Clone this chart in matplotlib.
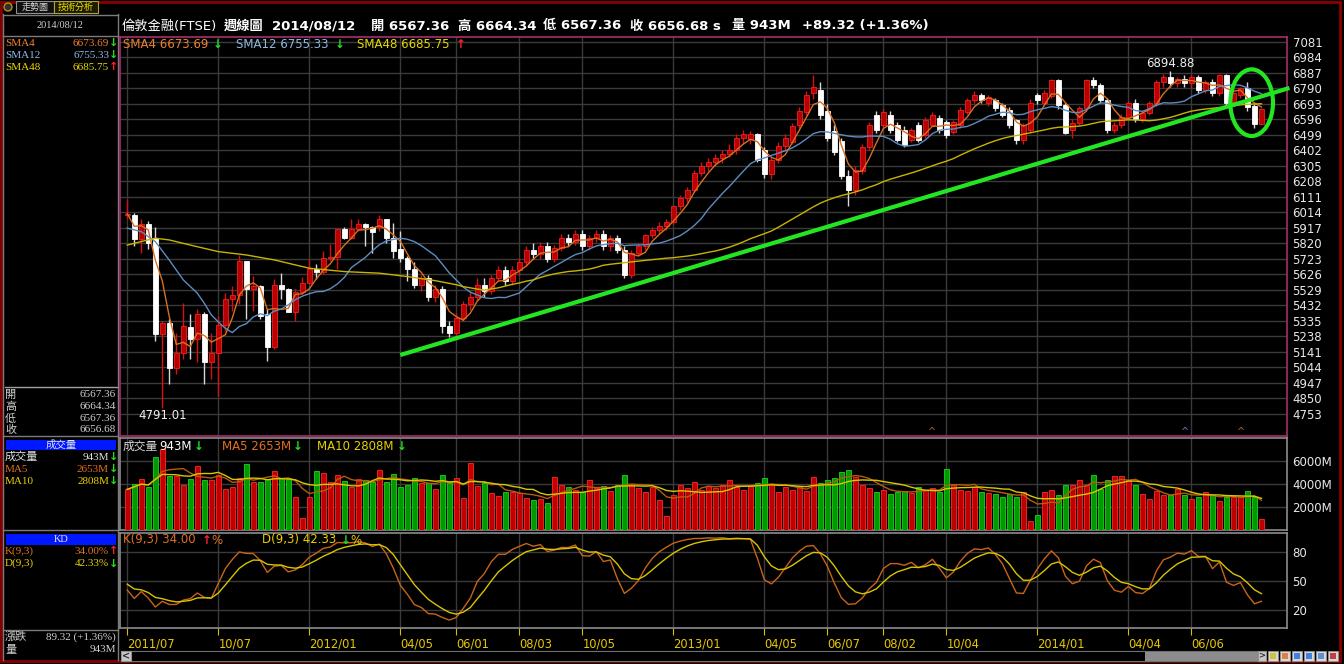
import matplotlib.pyplot as plt
from matplotlib.patches import Rectangle, Ellipse, Circle
import numpy as np
import pandas as pd

# 倫敦金融(FTSE) 週線, 2011/07/08 ~ 2014/08/15 共 163 根
opens = [5995, 5997, 5845, 5938, 5855, 5250, 5323, 5041, 5131, 5296,
         5219, 5375, 5073, 5135, 5308, 5469, 5494, 5709, 5532, 5552,
         5375, 5167, 5557, 5532, 5390, 5517, 5573, 5657, 5640, 5730,
         5736, 5907, 5855, 5907, 5938, 5918, 5918, 5970, 5855, 5782,
         5730, 5657, 5560, 5600, 5480, 5530, 5300, 5260, 5350, 5440,
         5480, 5560, 5520, 5600, 5650, 5580, 5650, 5700, 5780, 5750,
         5800, 5720, 5790, 5850, 5830, 5880, 5800, 5850, 5880, 5800,
         5850, 5780, 5620, 5760, 5800, 5870, 5900, 5930, 5950, 6050,
         6100, 6150, 6260, 6300, 6330, 6350, 6380, 6400, 6480, 6470,
         6500, 6400, 6250, 6340, 6430, 6450, 6560, 6640, 6760, 6780,
         6650, 6520, 6460, 6240, 6150, 6270, 6420, 6620, 6560, 6622,
         6560, 6528, 6466, 6560, 6497, 6560, 6603, 6578, 6516, 6560,
         6641, 6716, 6747, 6697, 6716, 6685, 6653, 6591, 6466, 6528,
         6747, 6700, 6740, 6841, 6685, 6528, 6571, 6666, 6841, 6810,
         6716, 6530, 6560, 6612, 6695, 6600, 6633, 6695, 6831, 6862,
         6820, 6850, 6820, 6860, 6780, 6830, 6760, 6870, 6705, 6747,
         6789, 6678, 6567.36]
highs = [6091, 6011, 5974, 5959, 5918, 5333, 5344, 5260, 5448, 5375,
         5406, 5386, 5260, 5365, 5511, 5552, 5744, 5709, 5615, 5557,
         5406, 5598, 5636, 5540, 5532, 5605, 5719, 5688, 5771, 5813,
         5910, 5918, 5970, 5970, 5949, 5928, 5995, 5974, 5949, 5897,
         5740, 5700, 5620, 5620, 5560, 5550, 5330, 5380, 5460, 5520,
         5600, 5600, 5620, 5680, 5680, 5680, 5730, 5800, 5820, 5830,
         5830, 5810, 5880, 5880, 5900, 5900, 5870, 5900, 5900, 5870,
         5870, 5800, 5780, 5820, 5880, 5920, 5950, 5970, 6060, 6120,
         6170, 6280, 6330, 6350, 6380, 6400, 6440, 6500, 6530, 6520,
         6510, 6420, 6360, 6450, 6500, 6570, 6670, 6770, 6875, 6830,
         6690, 6560, 6480, 6280, 6300, 6440, 6580, 6650, 6660, 6650,
         6580, 6550, 6540, 6580, 6610, 6640, 6620, 6590, 6590, 6670,
         6730, 6770, 6760, 6750, 6730, 6700, 6670, 6600, 6570, 6720,
         6760, 6780, 6850, 6850, 6700, 6600, 6680, 6850, 6860, 6820,
         6730, 6580, 6630, 6710, 6720, 6650, 6710, 6840, 6880, 6894.88,
         6860, 6870, 6870, 6870, 6840, 6850, 6880, 6880, 6770, 6800,
         6830, 6690, 6664.34]
lows = [5980, 5803, 5761, 5782, 5208, 4791.01, 4937, 5000, 5094, 5094,
        5073, 4937, 4968, 4864, 5271, 5396, 5438, 5344, 5396, 5344,
        5083, 5160, 5469, 5386, 5333, 5500, 5570, 5594, 5625, 5709,
        5657, 5845, 5845, 5897, 5803, 5761, 5897, 5824, 5730, 5699,
        5584, 5540, 5520, 5460, 5450, 5260, 5230, 5240, 5330, 5400,
        5460, 5480, 5500, 5580, 5560, 5560, 5620, 5680, 5720, 5720,
        5700, 5700, 5770, 5800, 5810, 5780, 5780, 5830, 5780, 5770,
        5760, 5600, 5600, 5740, 5780, 5850, 5880, 5900, 5940, 6030,
        6080, 6140, 6240, 6270, 6300, 6320, 6360, 6380, 6440, 6440,
        6330, 6230, 6220, 6320, 6400, 6440, 6540, 6620, 6720, 6600,
        6460, 6370, 6220, 6050, 6120, 6250, 6400, 6510, 6540, 6510,
        6450, 6420, 6450, 6450, 6480, 6550, 6510, 6480, 6500, 6540,
        6630, 6700, 6700, 6680, 6650, 6610, 6540, 6440, 6440, 6510,
        6690, 6690, 6730, 6660, 6500, 6480, 6560, 6650, 6790, 6700,
        6510, 6510, 6540, 6600, 6580, 6580, 6620, 6680, 6800, 6800,
        6800, 6800, 6790, 6760, 6760, 6740, 6740, 6680, 6690, 6730,
        6650, 6540, 6567.36]
closes = [6005, 5845, 5938, 5824, 5250, 5323, 5041, 5131, 5302, 5219,
          5375, 5073, 5135, 5308, 5469, 5494, 5709, 5532, 5552, 5365,
          5167, 5557, 5532, 5390, 5517, 5573, 5657, 5640, 5730, 5736,
          5907, 5855, 5907, 5938, 5918, 5890, 5970, 5855, 5771, 5730,
          5657, 5560, 5600, 5480, 5530, 5300, 5260, 5350, 5440, 5480,
          5560, 5520, 5600, 5650, 5580, 5650, 5700, 5780, 5750, 5800,
          5720, 5790, 5850, 5830, 5880, 5800, 5850, 5880, 5800, 5850,
          5780, 5620, 5760, 5800, 5870, 5900, 5930, 5950, 6050, 6100,
          6150, 6260, 6300, 6330, 6350, 6380, 6400, 6480, 6500, 6500,
          6340, 6250, 6340, 6430, 6480, 6550, 6650, 6750, 6800, 6620,
          6480, 6390, 6240, 6150, 6280, 6420, 6560, 6530, 6640, 6528,
          6466, 6435, 6528, 6466, 6591, 6622, 6528, 6497, 6578, 6653,
          6716, 6747, 6716, 6735, 6666, 6622, 6560, 6466, 6560, 6700,
          6716, 6760, 6841, 6685, 6510, 6571, 6666, 6841, 6810, 6716,
          6528, 6560, 6612, 6695, 6600, 6633, 6695, 6831, 6862, 6820,
          6850, 6820, 6860, 6780, 6830, 6760, 6870, 6695, 6758, 6789,
          6674, 6567.36, 6656.68]
# 成交量 (百萬)
volumes = [3524, 3983, 4416, 3697, 6294, 7013, 4701, 4701, 3896, 4416,
           5541, 4329, 4329, 4762, 3550, 3697, 4528, 5714, 4130, 4130,
           4390, 5134, 4476, 4476, 2883, 1065, 2883, 5134, 4961, 4182,
           4762, 4268, 3697, 4390, 4329, 4182, 5195, 4182, 4848, 3697,
           3896, 4528, 4095, 4043, 3550, 4762, 4095, 4476, 2745, 5827,
           3835, 4043, 3229, 2970, 3316, 3316, 3229, 2797, 2597, 2684,
           2312, 4615, 3900, 3700, 3500, 3300, 4300, 3600, 3800, 3400,
           3900, 4800, 4000, 3600, 3300, 3700, 2600, 1200, 3000, 3900,
           3600, 4200, 3500, 3800, 3600, 3900, 4300, 3700, 3500, 3800,
           4100, 4500, 4000, 3300, 3700, 3500, 3800, 3400, 4600, 4100,
           4300, 4500, 5000, 5200, 4600, 3900, 3600, 3300, 3500, 3100,
           3300, 3400, 3200, 3700, 3500, 3600, 3300, 5300, 3900, 3500,
           3400, 3700, 3300, 3200, 3100, 2866, 3100, 2866, 3299, 753,
           1273, 3299, 3446, 3013, 3939, 3939, 4312, 3879, 4745, 3593,
           4312, 4658, 4658, 4372, 3939, 3100, 2667, 3385, 3013, 3013,
           3532, 3013, 2719, 2866, 3299, 3013, 2519, 2866, 2866, 2866,
           3359, 2866, 943]

# 圖左端均線 (視窗之前的資料不在圖內, 直接讀圖上的線)
sma12_head_pos = [0, 2, 4, 6, 8, 10]
sma12_head = [5914, 5892, 5830, 5714, 5590, 5507]
sma48_head_pos = [0, 2, 4, 6, 9, 13, 17, 21, 26, 31, 36, 40, 44]
sma48_head = [5808, 5830, 5851, 5840, 5808, 5767, 5746, 5715, 5663, 5642, 5632, 5611, 5585]

tick_pos = [0, 13, 26, 39, 47, 56, 65, 78, 91, 100, 108, 117, 130, 143, 152]
tick_labels = ['2011/07', '10/07', '2012/01', '04/05', '06/01', '08/03', '10/05',
               '2013/01', '04/05', '06/07', '08/02', '10/04', '2014/01', '04/04', '06/06']
price_levels = list(range(4753, 7082, 97))
vol_levels = [2000, 4000, 6000]
kd_levels = [20, 50, 80]

# 手繪的趨勢線和圓圈 (週序號, 價位)
trend_x = [39, 166]
trend_y = [5120, 6791]
circle_xy = (160.6, 6699)
circle_w, circle_h = 6.1, 417

# 指標
df = pd.DataFrame({'o': opens, 'h': highs, 'l': lows, 'c': closes, 'v': volumes})
sma4 = df.c.rolling(4, min_periods=1).mean()
sma12 = df.c.rolling(12).mean()
sma48 = df.c.rolling(48).mean()
vma5 = df.v.rolling(5, min_periods=1).mean()
vma10 = df.v.rolling(10, min_periods=1).mean()
low9 = df.l.rolling(9, min_periods=1).min()
high9 = df.h.rolling(9, min_periods=1).max()
rsv = (df.c - low9) / (high9 - low9) * 100
K, D = [], []
k = d = 50.0
for r in rsv:
    k = k * 2 / 3 + r / 3
    d = d * 2 / 3 + k / 3
    K.append(k)
    D.append(d)

W, H = 1344, 664
FONT = ['DejaVu Sans', 'Noto Sans CJK TC']
LFONT = ['Liberation Serif', 'Noto Sans CJK TC']
plt.rcParams['font.family'] = FONT

fig = plt.figure(figsize=(W / 100, H / 100), dpi=100, facecolor='black')

# 底層 (像素座標) 用來畫外框
bg = fig.add_axes([0, 0, 1, 1])
bg.set_xlim(0, W)
bg.set_ylim(H, 0)
bg.axis('off')
bg.set_zorder(-5)


def txt(x, y, s, c='white', size=8.5, ha='left', weight='normal', family=FONT):
    fig.text(x / W, 1 - y / H, s, color=c, fontsize=size, ha=ha, va='center',
             fontweight=weight, family=family)


def hline(y, x0, x1, c='#7c7c7c', lw=1):
    bg.plot([x0, x1], [y, y], color=c, lw=lw)


def vline(x, y0, y1, c='#7c7c7c', lw=1):
    bg.plot([x, x], [y0, y1], color=c, lw=lw)


# 外框
bg.add_patch(Rectangle((1, 2), 1339, 659, fill=False, ec='#8a0000', lw=2))
vline(3, 14, 660)
vline(118, 14, 660)
hline(14.5, 3, 118)
hline(36, 3, 118)
hline(387, 5, 117, c='#a0a0a0')
hline(436, 3, 118)
hline(530, 3, 118)
hline(630, 3, 118)

# 頁籤
bg.add_patch(Circle((8, 7), 4, fc='#303030', ec='#b09020', lw=1))
bg.add_patch(Rectangle((16, 1), 38, 12, fc='#101010', ec='#909090', lw=0.8))
bg.add_patch(Rectangle((54, 1), 44, 12, fc='#1c1c00', ec='#b0a040', lw=0.8))
txt(35, 7.5, '走勢圖', '#d0d0d0', 6.5, 'center')
txt(76, 7.5, '技術分析', '#f0e000', 6.5, 'center')

# 左側資訊欄
txt(60, 25, '2014/08/12', '#d0d0d0', 7.5, 'center', family=LFONT)
left_rows = [(43, 'SMA4', '6673.69', '#f08030', '↓', '#20e020'),
             (55, 'SMA12', '6755.33', '#90b8e0', '↓', '#20e020'),
             (67, 'SMA48', '6685.75', '#e8d800', '↑', '#ff2020'),
             (457, '成交量', '943M', '#e0e0e0', '↓', '#20e020'),
             (469, 'MA5', '2653M', '#e07020', '↓', '#20e020'),
             (481, 'MA10', '2808M', '#e8d000', '↓', '#20e020'),
             (551.5, 'K(9,3)', '34.00%', '#e07020', '↑', '#ff2020'),
             (563.5, 'D(9,3)', '42.33%', '#e8d000', '↓', '#20e020')]
for y, name, val, col, arr, acol in left_rows:
    txt(5, y, name, col, 8, family=LFONT)
    txt(109, y, val, col, 8, 'right', family=LFONT)
    txt(113.5, y, arr, acol, 8, 'center', 'bold')
for y, name, val in [(394.5, '開', '6567.36'), (406.5, '高', '6664.34'),
                     (418.5, '低', '6567.36'), (430, '收', '6656.68')]:
    txt(5, y, name, '#d0d0d0', 8, family=LFONT)
    txt(116, y, val, '#d0d0d0', 8, 'right', family=LFONT)
bg.add_patch(Rectangle((6, 439.5), 110, 10.5, fc='#0018ff', ec='none'))
txt(61, 444.8, '成交量', '#e8e8e8', 7.5, 'center')
bg.add_patch(Rectangle((6, 533.5), 110, 11, fc='#0018ff', ec='none'))
txt(61, 539, 'KD', '#e8e8e8', 7.5, 'center', family=LFONT)
txt(5, 637, '漲跌', '#d0d0d0', 8, family=LFONT)
txt(116, 637, '89.32 (+1.36%)', '#d0d0d0', 8, 'right', family=LFONT)
txt(5, 649.5, '量', '#d0d0d0', 8, family=LFONT)
txt(116, 649.5, '943M', '#d0d0d0', 8, 'right', family=LFONT)

# 標題
txt(122, 26, '倫敦金融(FTSE)', 'white', 9.5)
for x, s in [(224, '週線圖'), (271.7, '2014/08/12'),
             (371, '開 6567.36'), (458, '高 6664.34'), (543, '低 6567.36'),
             (630, '收 6656.68 s'), (731.7, '量 943M'), (802, '+89.32 (+1.36%)')]:
    txt(x, 26, s, 'white', 9.5, weight='bold')

# 三個圖區
L, R = 120, 1287
ax = fig.add_axes([L / W, 1 - 436 / H, (R - L) / W, 399.3 / H])
axv = fig.add_axes([L / W, 1 - 530 / H, (R - L) / W, 91.7 / H])
axk = fig.add_axes([L / W, 1 - 628 / H, (R - L) / W, 94.8 / H])
xlim = (-1.04, 165.65)
for a, sc in [(ax, '#a8306a'), (axv, '#8c8c8c'), (axk, '#8c8c8c')]:
    a.set_facecolor('black')
    a.set_xlim(*xlim)
    for s in a.spines.values():
        s.set_color(sc)
        s.set_linewidth(1.2)
    a.set_xticks(tick_pos)
    a.grid(True, color='#3a3a3a', lw=1)
    a.set_axisbelow(True)
    a.yaxis.tick_right()
    a.tick_params(axis='y', length=0, labelcolor='#e8e8e8', labelsize=8.5, pad=4)
    a.tick_params(axis='x', length=0, labelbottom=False)

x = np.arange(len(closes))
o = df.o.values
c = df.c.values
hi = df.h.values
lo = df.l.values
up = c >= o

# K 線
ax.vlines(x[up], lo[up], hi[up], color='#d81010', lw=1, zorder=3)
ax.vlines(x[~up], lo[~up], hi[~up], color='#d8d8d8', lw=1, zorder=3)
body = np.maximum(np.abs(c - o), 5)
bottom = np.minimum(o, c)
ax.bar(x[up], body[up], bottom=bottom[up], width=0.7, color='#b80000',
       edgecolor='#f02020', lw=0.6, zorder=4)
ax.bar(x[~up], body[~up], bottom=bottom[~up], width=0.7, color='white',
       edgecolor='white', lw=0.6, zorder=4)
ax.plot(x, sma4, color='#d87020', lw=1, zorder=5)
ax.plot(sma12_head_pos + list(x[11:]), sma12_head + list(sma12[11:]),
        color='#5d8cc0', lw=1, zorder=5)
ax.plot(sma48_head_pos + list(x[47:]), sma48_head + list(sma48[47:]),
        color='#c8b400', lw=1, zorder=5)
ax.set_ylim(4613, 7112)
ax.set_yticks(price_levels)
ax.set_yticklabels([str(v) for v in price_levels])

ilo = int(np.argmin(lo))
ihi = int(np.argmax(hi))
ax.annotate(f'{lo[ilo]:.2f}', xy=(ilo, lo[ilo]), xytext=(0, -1), textcoords='offset points',
            ha='center', va='top', color='#f0f0f0', fontsize=8.5, zorder=6)
ax.annotate(f'{hi[ihi]:.2f}', xy=(ihi, hi[ihi]), xytext=(0, 1), textcoords='offset points',
            ha='center', va='bottom', color='#f0f0f0', fontsize=8.5, zorder=6)

ax.plot(trend_x, trend_y, color='#22e622', lw=3, zorder=7, clip_on=False,
        solid_capstyle='butt')
ax.add_patch(Ellipse(circle_xy, circle_w, circle_h, fill=False, ec='#22e622', lw=3,
                     zorder=7, clip_on=False))

# 成交量
vcol = np.where(up, '#c00000', '#009a00')
vedge = np.where(up, '#ff2a2a', '#22d022')
axv.bar(x, df.v, width=0.7, color=vcol, edgecolor=vedge, lw=0.6, zorder=3)
axv.plot(x, vma5, color='#b85a10', lw=1, zorder=4)
axv.plot(x, vma10, color='#d8c800', lw=1, zorder=4)
axv.set_ylim(0, 7950)
axv.set_yticks(vol_levels)
axv.set_yticklabels([f'{v}M' for v in vol_levels])

# KD
axk.plot(x, K, color='#c8641a', lw=1, zorder=4)
axk.plot(x, D, color='#d8c400', lw=1, zorder=4)
axk.set_ylim(1.5, 99.8)
axk.set_yticks(kd_levels)
axk.set_yticklabels([str(v) for v in kd_levels])
axk.tick_params(axis='x', length=5, color='#d8c000', labelbottom=True,
                labelcolor='#e8c800', labelsize=8.3, pad=2)
axk.set_xticklabels(tick_labels)
for lab in axk.get_xticklabels():
    lab.set_horizontalalignment('left')

# 圖例
txt(123, 44, 'SMA4 6673.69', '#f08030')
txt(213, 44, '↓', '#20e020', weight='bold')
txt(235.7, 44, 'SMA12 6755.33', '#90b8e0')
txt(335, 44, '↓', '#20e020', weight='bold')
txt(356.7, 44, 'SMA48 6685.75', '#e8d800')
txt(456, 44, '↑', '#ff2020', weight='bold')
txt(123, 446, '成交量', '#d8d8d8')
txt(159, 446, '943M', 'white')
txt(194, 446, '↓', '#20e020', weight='bold')
txt(221.7, 446, 'MA5 2653M', '#e07020')
txt(293, 446, '↓', '#20e020', weight='bold')
txt(317, 446, 'MA10 2808M', '#e8d000')
txt(397, 446, '↓', '#20e020', weight='bold')
txt(123, 540, 'K(9,3) 34.00', '#e07020')
txt(202, 540, '↑', '#ff2020', weight='bold')
txt(211, 540, '%', '#e07020')
txt(262, 540, 'D(9,3) 42.33', '#e8d000')
txt(341, 540, '↓', '#20e020', weight='bold')
txt(350, 540, '%', '#e8d000')

# 主圖底部的小三角
txt(932, 432, '^', '#c06020', 7, 'center')
txt(1185, 432, '^', '#6080c0', 7, 'center')
txt(1241, 432, '^', '#c06020', 7, 'center')

# 捲軸
bg.add_patch(Rectangle((121, 651), 1142, 10, fc='black', ec='#707070', lw=0.8))
bg.add_patch(Rectangle((121, 651), 10, 10, fc='#c8c8c8', ec='#909090', lw=0.8))
txt(126, 656, '<', '#303030', 7, 'center', 'bold')
bg.add_patch(Rectangle((1145, 651.5), 113, 9, fc='#8c8c8c', ec='none'))
bg.add_patch(Rectangle((1258, 651), 8, 10, fc='#c8c8c8', ec='#909090', lw=0.8))
txt(1262, 656, '>', '#303030', 6, 'center', 'bold')
for i, col in enumerate(['#d0c040', '#e08040', '#4080e0', '#4080e0', '#6090d0', '#c04040']):
    bg.add_patch(Rectangle((1268 + i * 12, 651), 10, 10, fc='#d8d8d8', ec='#909090', lw=0.6))
    bg.add_patch(Rectangle((1270 + i * 12, 653), 6, 6, fc=col, ec='none'))

fig.savefig('out.png', dpi=100, facecolor='black')
